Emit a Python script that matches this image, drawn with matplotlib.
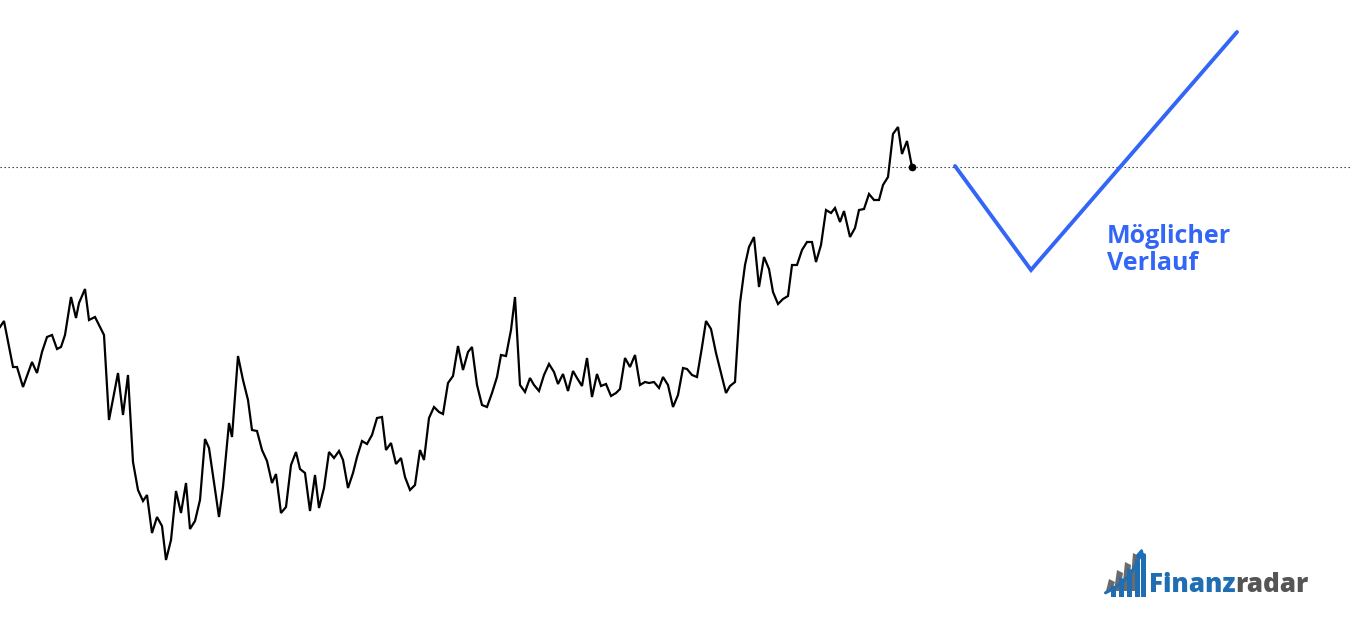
import matplotlib
matplotlib.use("Agg")
import matplotlib.pyplot as plt
from matplotlib.patches import Polygon, FancyArrowPatch

# ---- price history (x = time position, level = price level) ----
x_days = [0,4,13,17,23,32,37,42,47,52,
          57,61,65,71,76,79,85,89,95,99,
          104,109,118,123,128,133,138,143,147,152,
          157,162,166,171,176,181,186,190,195,200,
          205,209,219,223,229,232,238,243,248,252,
          257,262,267,272,276,281,286,291,296,300,
          305,310,315,319,324,329,334,339,343,348,
          353,357,362,367,372,377,382,386,391,396,
          401,405,410,415,420,424,429,434,439,443,
          448,453,458,463,468,472,477,482,487,492,
          497,501,506,511,515,520,525,530,534,539,
          544,549,554,558,563,568,573,577,582,587,
          592,597,601,606,611,616,620,625,630,635,
          640,645,649,654,659,663,668,673,678,683,
          687,692,697,702,706,711,716,721,726,730,
          735,740,745,749,754,759,764,769,773,778,
          783,788,792,797,802,807,812,816,821,826,
          831,835,840,844,850,855,859,864,869,874,
          879,883,888,893,898,902,907,912]
price = [298,304,258,258,238,263,252,273,288,290,
         276,278,290,328,307,322,336,305,308,300,
         290,205,252,210,250,163,135,124,130,92,
         108,99,65,85,134,112,142,96,104,125,
         186,177,108,138,202,188,269,245,225,195,
         194,175,164,142,151,112,118,160,173,156,
         152,114,150,117,137,173,167,174,165,137,
         152,168,184,181,190,207,208,175,182,161,
         167,148,135,140,175,165,207,218,213,211,
         242,249,279,255,273,278,240,220,218,232,
         248,270,269,295,328,240,233,247,240,234,
         250,261,253,241,251,234,254,247,239,267,
         228,251,239,241,229,232,236,267,258,270,
         240,243,242,243,237,248,240,218,230,257,
         256,250,248,278,304,296,272,252,232,239,
         243,322,360,378,388,338,368,356,333,321,
         326,329,360,360,375,383,383,363,380,415,
         412,417,403,414,388,397,415,416,431,425,
         425,440,448,491,498,471,484,458]

# ---- possible future path ----
path_x = [955, 1031, 1237]
path_level = [459, 355, 593]

label_lines = ["Möglicher", "Verlauf"]
logo_parts = ["Finanz", "radar"]

BLUE = "#3366f6"
LOGO_BLUE = "#1f6db2"
LOGO_GRAY = "#555555"

fig = plt.figure(figsize=(13.5, 6.25), dpi=100)
ax = fig.add_axes([0, 0, 1, 1])
ax.set_xlim(0, 1350)
ax.set_ylim(0, 625)
ax.axis("off")

# reference (last price) dotted line
ax.axhline(price[-1], color="#222222", lw=0.8, dashes=(1.2, 2.4), zorder=1)

ax.plot(x_days, price, color="black", lw=1.6, solid_joinstyle="miter", zorder=3)
ax.plot([x_days[-1]], [price[-1]], "o", color="black", ms=4.5, zorder=4)

ax.plot(path_x, path_level, color=BLUE, lw=2.8, solid_capstyle="round",
        solid_joinstyle="miter", zorder=3)

ax.text(1107, 382, label_lines[0], color=BLUE, fontsize=18, fontweight="bold",
        family="Open Sans", va="baseline", ha="left")
ax.text(1107, 355, label_lines[1], color=BLUE, fontsize=18, fontweight="bold",
        family="Open Sans", va="baseline", ha="left")

# ---- logo ----
t1 = ax.text(1149, 33, logo_parts[0], color=LOGO_BLUE, fontsize=18.7,
             fontweight=800, family="Open Sans", va="baseline", ha="left")
ax.annotate(logo_parts[1], xy=(1, 0), xycoords=t1, color=LOGO_GRAY, fontsize=18.7,
            fontweight=800, family="Open Sans", va="bottom", ha="left")

# icon: gray back bars + blue front bars
base = 625 - 597
gray_bars = [(1106, 1112, 582), (1114, 1120, 573), (1122, 1128, 565), (1130, 1136, 556)]
for x0, x1, top in gray_bars:
    ax.add_patch(Polygon([(x0, base + 6), (x1, base + 6), (x1 + 3, 625 - top),
                          (x0 + 3, 625 - top + 3)], closed=True,
                         color="#6b6b6b", lw=0, zorder=5))
blue_bars = [(1111, 1116, 587), (1119, 1124, 579), (1127, 1132, 570),
             (1135, 1140, 561), (1141, 1146, 554)]
for x0, x1, top in blue_bars:
    ax.add_patch(Polygon([(x0, base), (x1, base), (x1, 625 - top),
                          (x0, 625 - top + 2)], closed=True,
                         color=LOGO_BLUE, lw=0, zorder=6))
arrow = FancyArrowPatch((1103, 625 - 594), (1143, 625 - 545),
                        connectionstyle="arc3,rad=0.25", arrowstyle="-|>",
                        mutation_scale=11, color=LOGO_BLUE, lw=2.2, zorder=7)
ax.add_patch(arrow)

fig.savefig("out.png", dpi=100, facecolor="white")
